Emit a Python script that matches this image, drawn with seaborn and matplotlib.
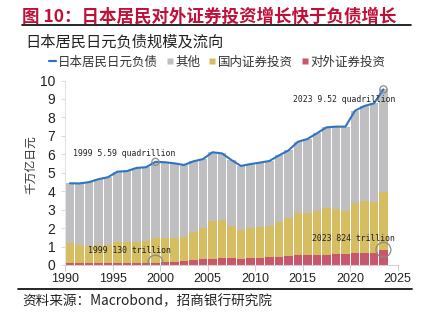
import numpy as np
import pandas as pd
import matplotlib
matplotlib.use("Agg")
import matplotlib.pyplot as plt
from matplotlib.lines import Line2D
import seaborn as sns

# Japanese household yen liabilities and where they flow (quadrillion yen)
years = list(range(1990, 2024))
total_liab = [4.43, 4.42, 4.49, 4.65, 4.76, 5.06, 5.09, 5.26, 5.30, 5.59,
              5.57, 5.51, 5.42, 5.62, 5.74, 6.11, 6.05, 5.69, 5.37, 5.47,
              5.55, 5.64, 5.94, 6.21, 6.68, 6.83, 7.14, 7.46, 7.50, 7.50,
              8.36, 8.62, 8.76, 9.52]
domestic_sec = [1.09, 0.98, 0.95, 1.02, 1.00, 1.15, 1.11, 1.13, 1.16, 1.35,
                1.33, 1.30, 1.32, 1.56, 1.69, 2.02, 2.06, 1.75, 1.57, 1.66,
                1.70, 1.71, 1.90, 2.04, 2.28, 2.32, 2.37, 2.53, 2.44, 2.31,
                2.71, 2.78, 2.76, 3.15]
overseas_sec = [0.09, 0.09, 0.09, 0.09, 0.10, 0.11, 0.12, 0.12, 0.12, 0.13,
                0.15, 0.18, 0.20, 0.25, 0.30, 0.35, 0.38, 0.38, 0.33, 0.36,
                0.36, 0.42, 0.45, 0.49, 0.52, 0.52, 0.54, 0.56, 0.60, 0.60,
                0.65, 0.67, 0.67, 0.824]
x_ticks = [1990, 1995, 2000, 2005, 2010, 2015, 2020, 2025]
y_ticks = list(range(0, 11))

series_names = ["日本居民日元负债", "其他", "国内证券投资", "对外证券投资"]

C_LINE = "#2E74C2"
C_OTHER = "#BFBFC1"
C_DOM = "#D6BD62"
C_OVER = "#C9566A"
C_TITLE = "#C0103A"

df = pd.DataFrame({"year": years, "total": total_liab,
                   "domestic": domestic_sec, "overseas": overseas_sec})
df["x"] = df["year"] + 0.5
df["other"] = df["total"] - df["domestic"] - df["overseas"]
df["dom_top"] = df["overseas"] + df["domestic"]

sns.set_theme(style="white")
plt.rcParams["font.family"] = ["Liberation Sans", "Noto Sans CJK SC", "DejaVu Sans"]
plt.rcParams["axes.unicode_minus"] = False

fig = plt.figure(figsize=(4.22, 3.23), dpi=100)
W, H = 422, 323
ax = fig.add_axes([65.2 / W, 1 - 265 / H, (397.7 - 65.2) / W, (265 - 80.5) / H])

# stacked bars drawn as overlapping cumulative heights
bw = 0.88
sns.barplot(data=df, x="x", y="total", native_scale=True, color=C_OTHER,
            saturation=1, width=bw, errorbar=None, ax=ax, linewidth=0)
sns.barplot(data=df, x="x", y="dom_top", native_scale=True, color=C_DOM,
            saturation=1, width=bw, errorbar=None, ax=ax, linewidth=0)
sns.barplot(data=df, x="x", y="overseas", native_scale=True, color=C_OVER,
            saturation=1, width=bw, errorbar=None, ax=ax, linewidth=0)
sns.lineplot(data=df, x="x", y="total", color=C_LINE, linewidth=1.5, ax=ax)

ax.set_xlim(1990, 2025)
ax.set_ylim(0, 10)
ax.set_xticks(x_ticks)
ax.set_yticks(y_ticks)
ax.set_xlabel("")
ax.set_ylabel("")
for side in ["top", "right"]:
    ax.spines[side].set_visible(False)
ax.spines["left"].set_color("#E3E3E3")
ax.spines["left"].set_linewidth(0.8)
ax.spines["bottom"].set_color("#D0D0D0")
ax.spines["bottom"].set_linewidth(0.8)
ax.tick_params(axis="y", length=3, width=0.6, color="#D0D0D0", pad=4,
               labelsize=10, labelcolor="#222222", left=True)
ax.tick_params(axis="x", length=4, width=0.6, color="#C8C8C8", pad=2,
               labelsize=9, labelcolor="#222222", bottom=True)
ax.grid(False)

# highlighted values
y99 = df.loc[df.year == 1999].iloc[0]
y23 = df.loc[df.year == 2023].iloc[0]
ring = dict(facecolors="none", edgecolors="#8A8A8A", linewidths=0.9, zorder=6)
ax.scatter([y99.x], [y99.total], s=26, **ring)
ax.scatter([y23.x], [y23.total], s=26, **ring)
ax.scatter([y99.x], [y99.overseas], s=115, **ring)
ax.scatter([y23.x], [y23.overseas], s=115, **ring)

mono = dict(family="DejaVu Sans Mono", size=5.9, color="#222222", va="center", zorder=7)
ax.text(1990.8, 6.07, f"1999 {y99.total:.2f} quadrillion", ha="left", **mono)
ax.text(2024.75, 8.98, f"2023 {y23.total:.2f} quadrillion", ha="right", **mono)
ax.text(1992.4, 0.76, f"1999 {y99.overseas*1000:.0f} trillion", ha="left", **mono)
ax.text(2024.75, 1.46, f"2023 {y23.overseas*1000:.0f} trillion", ha="right", **mono)

# legend
handles = [
    Line2D([0], [0], color=C_LINE, lw=1.6),
    Line2D([0], [0], marker="s", color="none", markerfacecolor=C_OTHER,
           markeredgecolor="none", markersize=4),
    Line2D([0], [0], marker="s", color="none", markerfacecolor=C_DOM,
           markeredgecolor="none", markersize=4),
    Line2D([0], [0], marker="s", color="none", markerfacecolor=C_OVER,
           markeredgecolor="none", markersize=4),
]
leg = fig.legend(handles, series_names, loc="center",
                 bbox_to_anchor=(217 / W, 1 - 62 / H), ncol=4, frameon=False,
                 handlelength=0.6, handletextpad=0.15, columnspacing=0.65,
                 prop={"family": ["Noto Sans CJK SC"], "size": 9})
for t in leg.get_texts():
    t.set_color("#333333")

# header, subtitle, axis unit, footer
fig.text(22 / W, 1 - 17 / H, "图 10：日本居民对外证券投资增长快于负债增长",
         family=["Noto Sans CJK SC"], weight="bold", size=12.6,
         color=C_TITLE, ha="left", va="center")
fig.add_artist(Line2D([22 / W, 411 / W], [1 - 25 / H] * 2, color="black", lw=1.2))
fig.text(25 / W, 1 - 42 / H, "日本居民日元负债规模及流向",
         family=["Noto Sans CJK SC"], size=11, color="#222222",
         ha="left", va="center")
fig.text(31 / W, 1 - 165 / H, "千万亿日元", rotation=90,
         family=["Noto Sans CJK SC"], size=8.5, color="#333333",
         ha="center", va="center")
fig.add_artist(Line2D([18 / W, 412 / W], [1 - 289 / H] * 2, color="black", lw=1.2))
fig.text(22 / W, 1 - 301 / H, "资料来源：Macrobond，招商银行研究院",
         family=["Noto Sans CJK SC"], size=9.8, color="#222222",
         ha="left", va="center")

fig.savefig("out.png", dpi=100)
